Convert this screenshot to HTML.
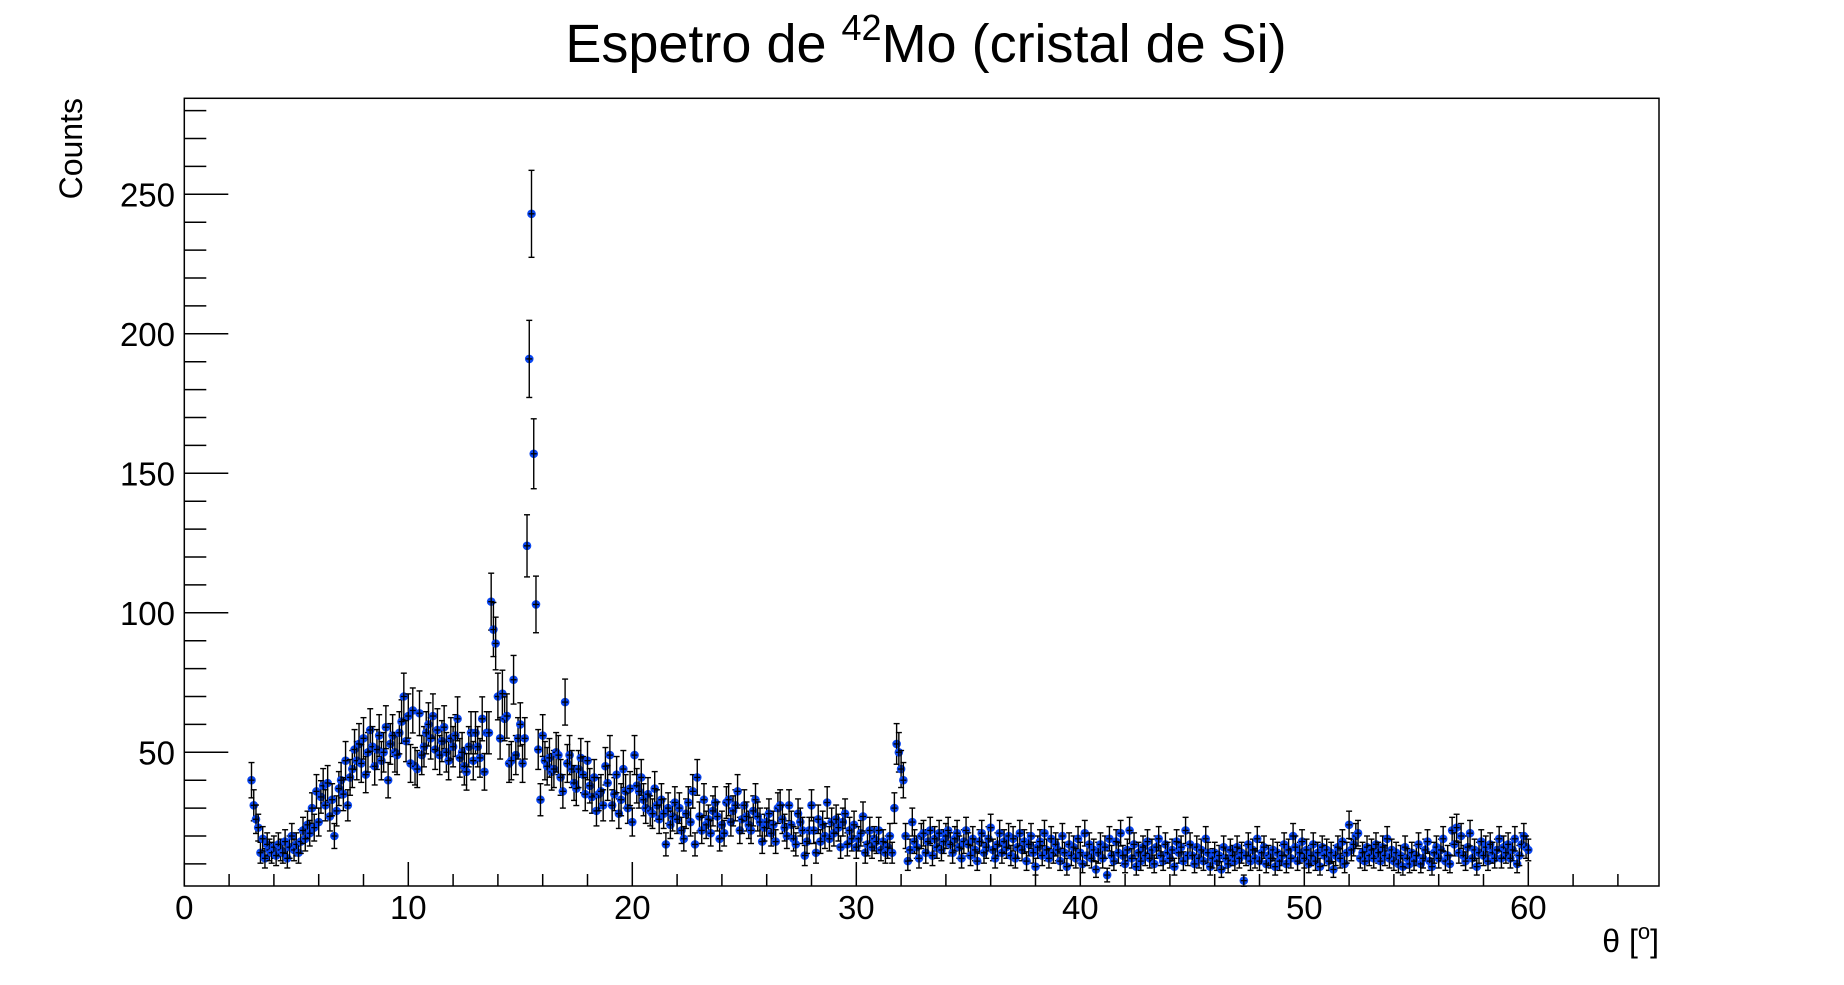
<!DOCTYPE html>
<html><head><meta charset="utf-8"><style>
html,body{margin:0;padding:0;background:#fff;}
svg{display:block;font-family:"Liberation Sans",sans-serif;}
</style></head><body>
<svg id="chart" width="1844" height="985" viewBox="0 0 1844 985" xmlns="http://www.w3.org/2000/svg">
<rect width="1844" height="985" fill="#fff"/>
<text x="926" y="62" font-size="54" text-anchor="middle">Espetro de <tspan font-size="36" dy="-22">42</tspan><tspan dy="22">Mo (cristal de Si)</tspan></text>
<text transform="translate(82,98) rotate(-90)" font-size="32" text-anchor="end">Counts</text>
<text x="1659" y="952" font-size="32" text-anchor="end">θ [<tspan font-size="22" dy="-13">o</tspan><tspan dy="13">]</tspan></text>
<g id="axes"></g>
<g id="marks"></g>
<rect x="184.3" y="98.3" width="1474.7" height="787.7" fill="none" stroke="#000" stroke-width="1.5"/>
</svg>
<script>
const xStart = 3.0;
const binWidth = 0.1;
const counts = [
40,31,26,23,14,19,12,17,15,14,
16,13,17,15,14,18,12,16,20,15,
17,14,18,22,19,24,21,30,23,36,
25,34,38,31,39,27,33,20,29,37,
40,35,47,31,41,44,51,47,53,46,
55,42,50,58,52,45,51,56,47,50,
59,40,53,56,50,49,57,61,70,54,
63,46,65,45,44,64,49,52,57,60,
55,63,51,58,49,54,59,50,47,55,
52,56,62,48,50,45,43,52,57,47,
57,52,48,62,43,57,57,104,94,89,
70,55,71,62,63,46,47,76,49,55,
60,46,55,124,191,243,157,103,51,33,
56,47,45,48,43,44,50,49,41,36,
68,46,49,44,39,37,44,48,42,35,
47,38,34,41,29,35,36,31,45,39,
49,31,35,42,28,33,44,36,30,37,
25,49,38,36,41,33,30,35,29,28,
37,31,26,33,28,17,30,24,27,32,
26,30,22,19,28,32,25,36,17,41,
27,22,33,24,26,21,29,32,27,19,
24,21,32,33,25,29,31,36,22,26,
31,27,24,22,29,33,27,25,18,23,
25,28,21,24,18,30,31,26,23,20,
31,24,19,17,28,25,22,13,18,22,
31,22,14,26,18,24,20,32,19,25,
21,26,23,16,25,28,17,22,19,24,
16,19,21,27,14,17,22,16,19,18,
22,15,18,14,16,20,14,30,53,50,
44,40,20,11,15,25,18,16,12,20,
21,14,18,22,13,19,16,21,15,18,
20,22,17,14,19,21,16,12,18,22,
17,13,19,15,11,18,21,14,16,19,
23,15,12,17,21,14,18,16,20,13,
19,12,16,21,15,18,11,17,20,14,
9,16,18,13,21,15,12,19,14,17,
15,11,20,14,9,17,13,16,12,19,
14,10,21,13,17,12,15,8,14,17,
12,16,6,19,13,11,18,14,21,13,
10,15,22,12,17,9,14,11,16,13,
18,12,15,10,16,19,13,11,17,14,
12,15,9,18,14,16,11,22,13,17,
13,10,16,12,15,11,19,14,9,12,
14,11,13,8,16,12,10,15,13,11,
16,12,14,4,13,17,11,15,12,19,
11,14,16,10,13,12,15,9,14,11,
13,17,10,15,12,20,16,11,14,18,
12,15,10,13,17,11,14,9,16,13,
15,11,14,8,13,16,12,18,10,14,
24,15,17,20,21,12,14,11,16,13,
15,12,17,14,11,16,13,19,12,15,
11,14,10,13,9,16,12,10,14,11,
13,17,10,12,15,18,11,9,14,16,
12,15,19,11,13,10,22,17,23,14,
20,13,11,16,21,12,15,9,14,18,
13,16,11,17,14,12,15,19,12,16,
14,17,12,15,19,10,13,17,20,16,
15];
const xTickLabels = ["0","10","20","30","40","50","60"];
const yTickLabels = ["50","100","150","200","250"];

const NS = "http://www.w3.org/2000/svg";
const X0 = 184.3, XPX = 22.4;
const YBOT = 886, YREF = 752.3, YPX = 2.79;
function sx(v){ return X0 + v * XPX; }
function sy(v){ return YREF - (v - 50) * YPX; }
function mk(tag, attrs, parent){
  const e = document.createElementNS(NS, tag);
  for (const k in attrs) e.setAttribute(k, attrs[k]);
  parent.appendChild(e);
  return e;
}
const axes = document.getElementById('axes');
const marks = document.getElementById('marks');

for (let v = 0; v <= 64; v += 2) {
  const major = v % 10 === 0;
  const t = mk('line', {x1: sx(v), x2: sx(v), y1: YBOT, y2: YBOT - (major ? 24 : 12), stroke: '#000', 'stroke-width': 1.5}, axes);
  
  
}
xTickLabels.forEach(function(s){
  const t = mk('text', {x: sx(parseFloat(s)), y: 919, 'font-size': 33, 'text-anchor': 'middle'}, axes);
  t.textContent = s;
  
  
});
for (let v = 10; v <= 280; v += 10) {
  const major = v % 50 === 0;
  const t = mk('line', {x1: X0, x2: X0 + (major ? 44 : 22), y1: sy(v), y2: sy(v), stroke: '#000', 'stroke-width': 1.5}, axes);
  
  
}
yTickLabels.forEach(function(s){
  const t = mk('text', {x: 175, y: sy(parseFloat(s)) + 12, 'font-size': 33, 'text-anchor': 'end'}, axes);
  t.textContent = s;
  
  
});

counts.forEach(function(c, i){
  const xv = xStart + i * binWidth;
  const px = sx(xv), py = sy(c);
  const err = Math.sqrt(c);
  const g = mk('g', {}, marks);
  
  
  mk('circle', {cx: px, cy: py, r: 4.3, fill: '#0a46f0'}, g);
  const yTop = Math.max(sy(c + err), 98.3), yLow = Math.min(sy(c - err), YBOT);
  mk('line', {x1: px, x2: px, y1: yTop, y2: yLow, stroke: '#000', 'stroke-width': 1.4}, g);
  mk('line', {x1: px - 3, x2: px + 3, y1: sy(c + err), y2: sy(c + err), stroke: '#000', 'stroke-width': 1.4}, g);
  mk('line', {x1: px - 3, x2: px + 3, y1: sy(c - err), y2: sy(c - err), stroke: '#000', 'stroke-width': 1.4}, g);
  mk('line', {x1: px - 3, x2: px + 3, y1: py, y2: py, stroke: '#000', 'stroke-width': 1.3}, g);
});
</script>
</body></html>
